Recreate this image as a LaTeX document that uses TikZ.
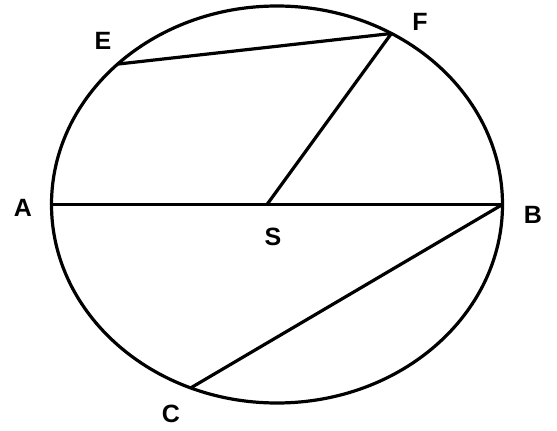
\documentclass[tikz,border=0pt]{standalone}
\usepackage{fontspec}
\setmainfont{Liberation Sans}
\begin{document}
\begin{tikzpicture}[x=1pt,y=-1pt,
  geo/.style={line width=3.2pt, line cap=round, line join=round},
  lbl/.style={font=\fontsize{25}{25}\selectfont\bfseries, inner sep=0pt}]
\useasboundingbox (0,0) rectangle (557,431);
\coordinate (O) at (277,204.5);
\coordinate (A) at (51.5,204.5);
\coordinate (B) at (502.5,204.5);
\coordinate (E) at (117.5,64.1);
\coordinate (F) at (391.4,33.5);
\coordinate (C) at (190.7,387.9);
\coordinate (S) at (267,204.5);
\draw[geo] (O) ellipse [x radius=225.5, y radius=198.5];
\draw[geo] (A) -- (B);
\draw[geo] (E) -- (F);
\draw[geo] (S) -- (F);
\draw[geo] (B) -- (C);
\node[lbl] (lA) at (23,208) {A};
\node[lbl] (lB) at (533,215) {B};
\node[lbl] (lC) at (171,414) {C};
\node[lbl] (lE) at (103,41) {E};
\node[lbl] (lF) at (420,22) {F};
\node[lbl] (lS) at (273,237) {S};
\end{tikzpicture}
\end{document}
